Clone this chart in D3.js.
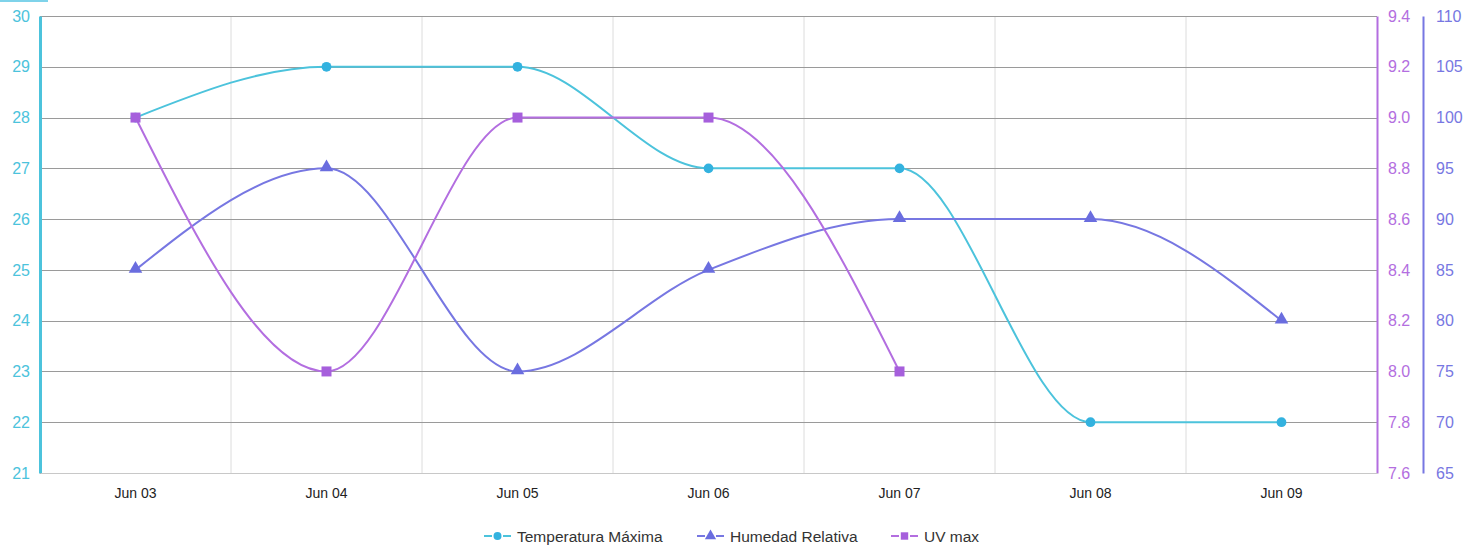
<!DOCTYPE html>
<html>
<head>
<meta charset="utf-8">
<script src="https://cdn.jsdelivr.net/npm/d3@7"></script>
<style>
  html, body { margin: 0; padding: 0; background: #fff; }
  svg { display: block; font-family: "Liberation Sans", Arial, sans-serif; }
</style>
</head>
<body>
<svg id="chart" width="1465" height="546"></svg>
<script>
// Daily forecast data
const days = ["Jun 03", "Jun 04", "Jun 05", "Jun 06", "Jun 07", "Jun 08", "Jun 09"];
const tempMax = [28, 29, 29, 27, 27, 22, 22];
const humidity = [85, 95, 75, 85, 90, 90, 80];
const uvMax = [9.0, 8.0, 9.0, 9.0, 8.0, null, null];

const tempTicks = [21, 22, 23, 24, 25, 26, 27, 28, 29, 30];
const uvTicks = [7.6, 7.8, 8.0, 8.2, 8.4, 8.6, 8.8, 9.0, 9.2, 9.4];
const humTicks = [65, 70, 75, 80, 85, 90, 95, 100, 105, 110];

const colTemp = "#4cc3dc", colTempDot = "#33b2df";
const colHum = "#7777e2", colHumDot = "#6a6ddf";
const colUV = "#b36ee0", colUVDot = "#a65fdc";

const svg = d3.select("#chart");
const L = 40, R = 1377, T = 16, B = 473;

const x = d3.scaleBand().domain(days).range([L, R]);
const yT = d3.scaleLinear().domain([21, 30]).range([B, T]);
const yU = d3.scaleLinear().domain([7.6, 9.4]).range([B, T]);
const yH = d3.scaleLinear().domain([65, 110]).range([B, T]);

// small highlight strip at the top-left corner
svg.append("rect").attr("x", 0).attr("y", 0).attr("width", 48).attr("height", 2).attr("fill", "#7fd3ea");

// vertical grid at band boundaries
const bounds = days.slice(1).map(d => x(d));
svg.append("g").selectAll("line").data(bounds).join("line")
  .attr("x1", d => d).attr("x2", d => d).attr("y1", T).attr("y2", B)
  .attr("stroke", "#dcdcdc").attr("stroke-width", 1);

// horizontal grid
svg.append("g").selectAll("line").data(tempTicks).join("line")
  .attr("x1", L).attr("x2", R)
  .attr("y1", d => Math.round(yT(d)) + 0.5).attr("y2", d => Math.round(yT(d)) + 0.5)
  .attr("stroke", "#9a9a9a").attr("stroke-width", 1);

// left axis (temperature)
const axL = svg.append("g").attr("transform", `translate(${L},0)`)
  .call(d3.axisLeft(yT).tickValues(tempTicks).tickSize(0).tickPadding(10).tickFormat(d3.format("d")));
axL.select(".domain").attr("stroke", colTemp).attr("stroke-width", 3);
axL.selectAll("text").attr("fill", colTemp).attr("font-size", 16);

// right axis (UV)
const axU = svg.append("g").attr("transform", `translate(${R},0)`)
  .call(d3.axisRight(yU).tickValues(uvTicks).tickSize(0).tickPadding(11).tickFormat(d3.format(".1f")));
axU.select(".domain").attr("stroke", colUV).attr("stroke-width", 2);
axU.selectAll("text").attr("fill", colUV).attr("font-size", 16);

// second right axis (humidity)
const axH = svg.append("g").attr("transform", `translate(1423,0)`)
  .call(d3.axisRight(yH).tickValues(humTicks).tickSize(0).tickPadding(13).tickFormat(d3.format("d")));
axH.select(".domain").attr("stroke", colHum).attr("stroke-width", 2);
axH.selectAll("text").attr("fill", colHum).attr("font-size", 16);

// bottom category labels
const axB = svg.append("g").attr("transform", `translate(0,${B})`)
  .call(d3.axisBottom(x).tickSize(0).tickPadding(15));
axB.select(".domain").attr("stroke", "#c8c8c8");
axB.selectAll("text").attr("fill", "#222").attr("font-size", 14);

const cx = d => x(d) + x.bandwidth() / 2;

function series(vals, yScale, color) {
  const pts = days.map((d, i) => [d, vals[i]]);
  const line = d3.line()
    .defined(p => p[1] !== null)
    .x(p => cx(p[0])).y(p => yScale(p[1]))
    .curve(d3.curveMonotoneX);
  svg.append("path").datum(pts).attr("d", line)
    .attr("fill", "none").attr("stroke", color).attr("stroke-width", 2);
  return pts.filter(p => p[1] !== null);
}

const tPts = series(tempMax, yT, colTemp);
const hPts = series(humidity, yH, colHum);
const uPts = series(uvMax, yU, colUV);

const sym = (type, size) => d3.symbol().type(type).size(size)();

svg.append("g").selectAll("path").data(tPts).join("path")
  .attr("transform", p => `translate(${cx(p[0])},${yT(p[1])})`)
  .attr("d", sym(d3.symbolCircle, 75)).attr("fill", colTempDot);
svg.append("g").selectAll("path").data(hPts).join("path")
  .attr("transform", p => `translate(${cx(p[0])},${yH(p[1]) - 1})`)
  .attr("d", sym(d3.symbolTriangle, 80)).attr("fill", colHumDot);
svg.append("g").selectAll("path").data(uPts).join("path")
  .attr("transform", p => `translate(${cx(p[0])},${yU(p[1])})`)
  .attr("d", sym(d3.symbolSquare, 100)).attr("fill", colUVDot);

// legend
const legendItems = [
  { name: "Temperatura Máxima", color: colTemp, dot: colTempDot, type: d3.symbolCircle, size: 50, x: 484 },
  { name: "Humedad Relativa", color: colHum, dot: colHumDot, type: d3.symbolTriangle, size: 55, x: 697 },
  { name: "UV max", color: colUV, dot: colUVDot, type: d3.symbolSquare, size: 55, x: 891 }
];
const lg = svg.append("g").selectAll("g").data(legendItems).join("g")
  .attr("transform", d => `translate(${d.x},536)`);
lg.append("line").attr("x1", 0).attr("x2", 8).attr("y1", 0).attr("y2", 0)
  .attr("stroke", d => d.color).attr("stroke-width", 2);
lg.append("line").attr("x1", 19).attr("x2", 27).attr("y1", 0).attr("y2", 0)
  .attr("stroke", d => d.color).attr("stroke-width", 2);
lg.append("path").attr("transform", "translate(13.5,0)")
  .attr("d", d => sym(d.type, d.size)).attr("fill", d => d.dot);
lg.append("text").attr("x", 33).attr("y", 5.5).attr("font-size", 15.5).attr("fill", "#333")
  .text(d => d.name);
</script>
</body>
</html>
